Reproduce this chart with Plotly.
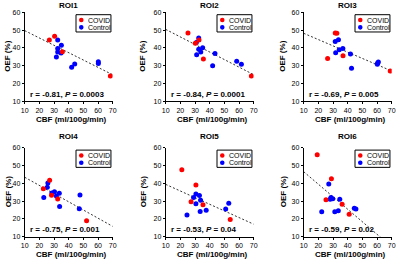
import plotly.graph_objects as go

rois = ["ROI1", "ROI2", "ROI3", "ROI4", "ROI5", "ROI6"]
stats = ["r = -0.81, <i>P</i> = 0.0003", "r = -0.84, <i>P</i> = 0.0001", "r = -0.69, <i>P</i> = 0.005",
         "r = -0.75, <i>P</i> = 0.001", "r = -0.53, <i>P</i> = 0.04", "r = -0.59, <i>P</i> = 0.02"]

covid_cbf = [
    [26.8, 30.4, 35.7, 68.4],
    [25.2, 30.2, 32.7, 35.7, 68.4],
    [31.5, 32.6, 26.3, 36.8, 69.0],
    [27.0, 22.7, 28.3, 32.5, 52.2],
    [21.0, 30.6, 27.3, 35.4, 54.0],
    [19.2, 28.9, 25.2, 36.2, 41.0],
]
covid_oef = [
    [44.5, 46.5, 37.9, 24.2],
    [48.4, 42.6, 44.5, 33.8, 24.2],
    [48.4, 48.3, 34.1, 35.6, 27.0],
    [41.7, 37.0, 33.3, 31.2, 19.0],
    [47.6, 39.1, 29.7, 28.0, 19.7],
    [56.1, 42.5, 30.8, 28.3, 22.6],
]
ctrl_cbf = [
    [32.5, 35.0, 32.5, 32.5, 34.8, 31.6, 60.2, 60.2, 44.1, 42.0],
    [32.5, 30.9, 32.5, 35.2, 33.9, 31.1, 43.6, 42.0, 58.4, 61.6],
    [31.5, 33.7, 34.2, 36.7, 31.8, 41.9, 42.6, 60.2, 60.4, 60.9],
    [25.8, 25.4, 23.0, 28.5, 30.3, 31.6, 33.6, 33.8, 47.7, 47.2],
    [30.6, 33.0, 29.0, 33.8, 30.6, 33.5, 37.6, 24.5, 50.9, 53.0],
    [27.1, 28.6, 29.8, 28.0, 34.6, 44.5, 45.6, 22.3, 31.2, 33.6],
]
ctrl_oef = [
    [44.5, 41.5, 39.6, 37.7, 37.2, 34.9, 32.2, 31.3, 30.9, 29.1],
    [45.5, 43.1, 39.2, 40.1, 37.7, 36.2, 36.8, 30.0, 32.5, 30.8],
    [43.6, 44.6, 38.9, 39.6, 37.3, 36.6, 28.6, 30.8, 31.5, 32.1],
    [40.1, 37.8, 32.0, 34.6, 35.3, 32.8, 34.4, 27.0, 33.4, 25.7],
    [34.0, 33.2, 32.0, 30.5, 28.5, 24.2, 24.8, 22.2, 25.6, 28.8],
    [39.6, 32.0, 31.3, 31.1, 31.1, 26.0, 25.6, 24.0, 24.0, 24.6],
]
fit_slope = [-0.413, -0.424, -0.353, -0.46, -0.373, -0.703]
fit_intercept = [53.83, 54.64, 51.73, 48.0, 43.13, 53.53]

x_ticks = [10, 20, 30, 40, 50, 60, 70]
y_ticks = [10, 20, 30, 40, 50, 60]

FONT = "Liberation Sans, Arial, sans-serif"
W, H = 400, 261
col_px = [(24.7, 112.7), (165.7, 253.7), (303.7, 391.7)]
row_px = [(12.3, 101.3), (147.7, 236.7)]
title_y_px = [5.5, 136.3]
xtitle_y_px = [119.3, 254.5]
ytitle_x_px = [8.0, 143.0, 283.0]

fig = go.Figure()
annotations = []
shapes = []
layout = {}

for i in range(6):
    r, c = divmod(i, 3)
    k = "" if i == 0 else str(i + 1)
    xa, ya = "x" + k, "y" + k
    xd = [col_px[c][0] / W, col_px[c][1] / W]
    yd = [1 - row_px[r][1] / H, 1 - row_px[r][0] / H]
    axis_common = dict(showline=True, linecolor="black", linewidth=1, showgrid=False, zeroline=False,
                       ticks="outside", ticklen=2, tickcolor="black", mirror=False, automargin=False,
                       tickfont=dict(family=FONT, size=7, color="black"))
    layout["xaxis" + k] = dict(domain=xd, anchor=ya, range=[10, 70], tickvals=x_ticks, **axis_common)
    layout["yaxis" + k] = dict(domain=yd, anchor=xa, range=[10, 60], tickvals=y_ticks, **axis_common)

    xs = [10, 70]
    fig.add_trace(go.Scatter(x=xs, y=[fit_intercept[i] + fit_slope[i] * v for v in xs], mode="lines",
                             line=dict(color="#333333", width=1, dash="2px,2px"),
                             xaxis=xa, yaxis=ya, showlegend=False, hoverinfo="skip"))
    fig.add_trace(go.Scatter(x=ctrl_cbf[i], y=ctrl_oef[i], mode="markers", name="Control",
                             marker=dict(color="#0000ff", size=5), xaxis=xa, yaxis=ya, showlegend=False))
    fig.add_trace(go.Scatter(x=covid_cbf[i], y=covid_oef[i], mode="markers", name="COVID",
                             marker=dict(color="#ff0000", size=5), xaxis=xa, yaxis=ya, showlegend=False))

    xdom, ydom = xa + " domain", ya + " domain"
    annotations.append(dict(text="<b>" + rois[i] + "</b>", xref="paper", yref="paper",
                            x=(xd[0] + xd[1]) / 2, y=1 - title_y_px[r] / H, showarrow=False,
                            xanchor="center", yanchor="middle", font=dict(family=FONT, size=8, color="black")))
    annotations.append(dict(text="<b>CBF (ml/100g/min)</b>", xref="paper", yref="paper",
                            x=(xd[0] + xd[1]) / 2 + 3 / W, y=1 - xtitle_y_px[r] / H, showarrow=False,
                            xanchor="center", yanchor="middle", font=dict(family=FONT, size=8, color="black")))
    annotations.append(dict(text="<b>OEF (%)</b>", xref="paper", yref="paper", textangle=-90,
                            x=ytitle_x_px[c] / W, y=(yd[0] + yd[1]) / 2, showarrow=False,
                            xanchor="center", yanchor="middle", font=dict(family=FONT, size=8, color="black")))
    annotations.append(dict(text="<b>" + stats[i] + "</b>", xref=xa, yref=ya, x=12.3, y=13.8,
                            showarrow=False, xanchor="left", yanchor="middle",
                            font=dict(family=FONT, size=8, color="black")))
    shapes.append(dict(type="rect", xref=xdom, yref=ydom, x0=0.583, x1=0.98, y0=0.779, y1=0.973,
                       line=dict(color="black", width=1), fillcolor="white", layer="above"))
    for yy, col, lab in [(0.913, "#ff0000", "COVID"), (0.831, "#0000ff", "Control")]:
        shapes.append(dict(type="circle", xref=xdom, yref=ydom, x0=0.643 - 0.026, x1=0.643 + 0.026,
                           y0=yy - 0.026, y1=yy + 0.026, line=dict(width=0), fillcolor=col, layer="above"))
        annotations.append(dict(text=lab, xref=xdom, yref=ydom, x=0.7, y=yy, showarrow=False,
                                xanchor="left", yanchor="middle", font=dict(family=FONT, size=7, color="black")))

fig.update_layout(width=W, height=H, margin=dict(l=0, r=0, t=0, b=0, autoexpand=False), plot_bgcolor="white",
                  paper_bgcolor="white", showlegend=False, annotations=annotations, shapes=shapes, **layout)
fig.write_html("out.html", config={"displayModeBar": False},
               post_script="document.body.style.margin='0px';")
